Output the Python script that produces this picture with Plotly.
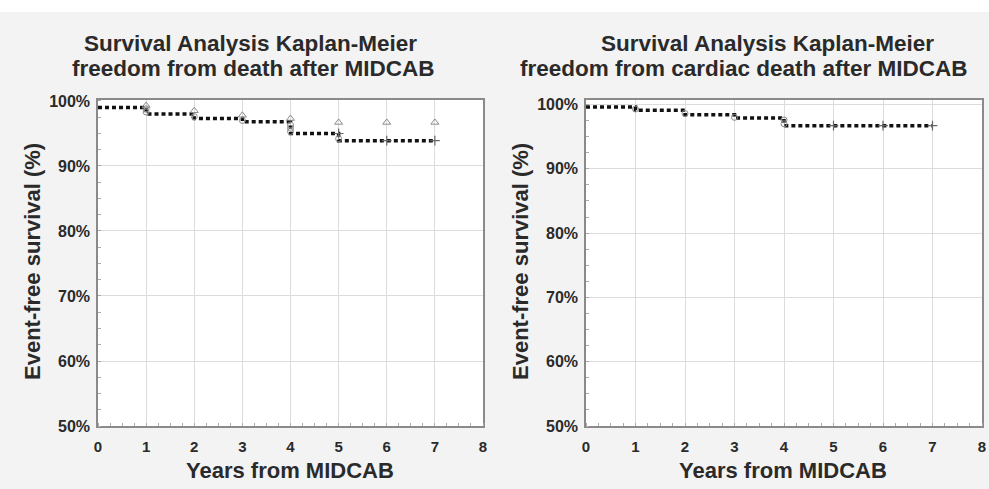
import plotly.graph_objects as go

# ---- data ----
years_steps = [0, 1, 2, 3, 4, 5, 7]
death_surv = [99.0, 98.0, 97.3, 96.8, 95.0, 93.9, 93.9]
cardiac_surv = [99.6, 99.1, 98.4, 97.9, 96.7, 96.7, 96.7]

death_cens_x = [1, 1, 2, 3, 4, 4, 4, 5]
death_cens_y = [98.3, 98.8, 97.6, 97.0, 95.3, 95.8, 96.3, 94.2]
death_tri_x = [1, 2, 3, 4, 5, 6, 7]
death_tri_y = [99.3, 98.5, 97.8, 97.3, 96.7, 96.7, 96.7]
death_plus_x = [5, 6, 7]
death_plus_y = [95.0, 93.9, 93.9]

cardiac_cens_x = [1, 2, 3, 4, 4]
cardiac_cens_y = [99.3, 98.6, 98.0, 97.6, 97.0]
cardiac_plus_x = [5, 6, 7]
cardiac_plus_y = [96.7, 96.7, 96.7]

x_ticks = [0, 1, 2, 3, 4, 5, 6, 7, 8]
y_ticks = [50, 60, 70, 80, 90, 100]
y_tick_labels = ["50%", "60%", "70%", "80%", "90%", "100%"]

title_lines = [["Survival Analysis Kaplan-Meier", "freedom from death after MIDCAB"],
               ["Survival Analysis Kaplan-Meier", "freedom from cardiac death after MIDCAB"]]
x_title = "Years from MIDCAB"
y_title = "Event-free survival (%)"

FONT = "Liberation Sans, Arial, sans-serif"
TXT = "#2a2a2a"
W, H = 989, 489

fig = go.Figure()

def add_panel(xa, ya, ys, cx, cy, tx, ty, px, py):
    fig.add_trace(go.Scatter(x=years_steps, y=ys, mode="lines", line_shape="hv",
                             line=dict(color="#111111", width=3.5, dash="4px,3px"),
                             xaxis=xa, yaxis=ya, showlegend=False))
    fig.add_trace(go.Scatter(x=cx, y=cy, mode="markers",
                             marker=dict(symbol="circle-open", size=6, color="#8a8a8a", line=dict(width=1)),
                             xaxis=xa, yaxis=ya, showlegend=False))
    if tx:
        fig.add_trace(go.Scatter(x=tx, y=ty, mode="markers",
                                 marker=dict(symbol="triangle-up-open", size=7, color="#8a8a8a", line=dict(width=1)),
                                 xaxis=xa, yaxis=ya, showlegend=False))
    fig.add_trace(go.Scatter(x=px, y=py, mode="markers",
                             marker=dict(symbol="cross-thin-open", size=7, color="#666666", line=dict(width=1.2)),
                             xaxis=xa, yaxis=ya, showlegend=False))

add_panel("x", "y", death_surv, death_cens_x, death_cens_y, death_tri_x, death_tri_y,
          death_plus_x, death_plus_y)
add_panel("x2", "y2", cardiac_surv, cardiac_cens_x, cardiac_cens_y, [], [],
          cardiac_plus_x, cardiac_plus_y)

ydom = [(H - 426) / H, (H - 100) / H]
xcommon = dict(range=[0, 8], tickvals=x_ticks, ticktext=[str(v) for v in x_ticks],
               showgrid=True, gridcolor="#dcdcdc", gridwidth=1, zeroline=False,
               showline=True, linecolor="#8a8a8a", linewidth=1.5, mirror=True,
               ticks="", ticklabelstandoff=6, automargin=False,
               tickfont=dict(family=FONT, size=15, color=TXT, weight="bold"),
               minor=dict(dtick=0.25, ticks="inside", ticklen=3, tickcolor="#aaaaaa", showgrid=False))
ycommon = dict(tickvals=y_ticks, ticktext=y_tick_labels,
               showgrid=True, gridcolor="#dcdcdc", gridwidth=1, zeroline=False,
               showline=True, linecolor="#8a8a8a", linewidth=1.5, mirror=True,
               ticks="", ticklabelstandoff=3, automargin=False,
               tickfont=dict(family=FONT, size=16, color=TXT, weight="bold"),
               minor=dict(dtick=2.5, ticks="inside", ticklen=3, tickcolor="#aaaaaa", showgrid=False),
               domain=ydom)

def px_x(v):
    return v / W

def px_y(v):
    return 1 - v / H

annots = []
title_pos = [[(251, 43), (253, 68)], [(767, 43), (744, 68)]]
for lines, poss in zip(title_lines, title_pos):
    for txt, (cx, cy) in zip(lines, poss):
        annots.append(dict(text=txt, xref="paper", yref="paper", x=px_x(cx), y=px_y(cy),
                           xanchor="center", yanchor="middle", showarrow=False,
                           font=dict(family=FONT, size=22.5, color=TXT, weight="bold")))
for cx in (290, 783):
    annots.append(dict(text=x_title, xref="paper", yref="paper", x=px_x(cx), y=px_y(470),
                       xanchor="center", yanchor="middle", showarrow=False,
                       font=dict(family=FONT, size=22, color=TXT, weight="bold")))
for cx in (32, 520):
    annots.append(dict(text=y_title, xref="paper", yref="paper", x=px_x(cx), y=px_y(262),
                       xanchor="center", yanchor="middle", showarrow=False, textangle=-90,
                       font=dict(family=FONT, size=22, color=TXT, weight="bold")))

fig.update_layout(
    width=W, height=H,
    margin=dict(l=0, r=0, t=0, b=0, pad=0),
    paper_bgcolor="#f3f3f3", plot_bgcolor="#ffffff",
    xaxis=dict(domain=[98 / W, 483 / W], anchor="y", **xcommon),
    yaxis=dict(range=[50, 100.15], anchor="x", **ycommon),
    xaxis2=dict(domain=[586 / W, 982 / W], anchor="y2", **xcommon),
    yaxis2=dict(range=[50, 100.7], anchor="x2", **ycommon),
    shapes=[dict(type="rect", xref="paper", yref="paper", x0=0, x1=1,
                 y0=1 - 12 / H, y1=1.01, fillcolor="#ffffff", line=dict(width=0), layer="below")],
    annotations=annots,
)

fig.write_html(
    "out.html",
    config={"displayModeBar": False},
    post_script=("document.body.style.margin='0';"
                 "document.documentElement.style.overflow='hidden';"
                 "var gd=document.getElementById('{plot_id}');"
                 "Plotly.relayout(gd,{'margin.pad':0});"),
)
